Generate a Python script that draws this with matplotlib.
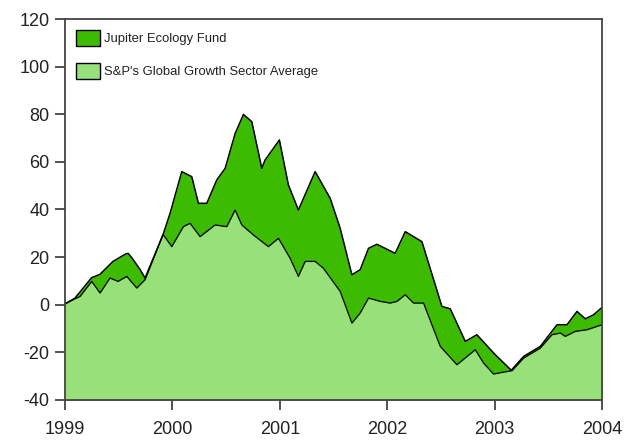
import numpy as np
import matplotlib.pyplot as plt
from matplotlib.patches import Patch

# Jupiter Ecology Fund (% growth)
jup_t = [1999.0, 1999.016, 1999.093, 1999.249, 1999.279, 1999.326, 1999.447, 1999.559,
         1999.587, 1999.621, 1999.699, 1999.745, 1999.913, 1999.978, 2000.087, 2000.180,
         2000.242, 2000.320, 2000.413, 2000.491, 2000.584, 2000.661, 2000.739, 2000.832,
         2000.863, 2000.996, 2001.080, 2001.173, 2001.329, 2001.469, 2001.562, 2001.671,
         2001.748, 2001.826, 2001.904, 2002.074, 2002.168, 2002.323, 2002.509, 2002.587,
         2002.727, 2002.835, 2003.006, 2003.155, 2003.270, 2003.425, 2003.581, 2003.674,
         2003.767, 2003.844, 2003.922, 2004.0]
jup_v = [0.5, 0.7, 2.8, 11.4, 11.9, 12.8, 18.2, 21.2,
         21.6, 19.8, 14.8, 11.2, 29.5, 38.4, 55.9, 53.8,
         42.6, 42.6, 52.4, 57.3, 71.9, 79.9, 76.9, 57.3,
         60.8, 69.2, 50.3, 39.8, 55.9, 44.7, 32.1, 12.6,
         14.7, 23.7, 25.4, 21.6, 30.7, 26.5, -0.7, -1.7,
         -15.4, -12.6, -21.0, -27.5, -21.7, -17.5, -8.4, -8.4,
         -2.8, -5.9, -4.2, -1.1]

# S&P's Global Growth Sector Average
sp_t = [1999.0, 1999.140, 1999.249, 1999.326, 1999.419, 1999.494, 1999.575, 1999.668,
        1999.745, 1999.913, 1999.994, 2000.102, 2000.164, 2000.258, 2000.397, 2000.506,
        2000.584, 2000.646, 2000.754, 2000.894, 2000.987, 2001.096, 2001.173, 2001.236,
        2001.329, 2001.406, 2001.562, 2001.671, 2001.748, 2001.826, 2001.935, 2002.028,
        2002.090, 2002.168, 2002.245, 2002.338, 2002.494, 2002.649, 2002.820, 2002.897,
        2002.990, 2003.083, 2003.162, 2003.270, 2003.425, 2003.534, 2003.612, 2003.658,
        2003.751, 2003.860, 2004.0]
sp_v = [0.5, 3.5, 9.8, 4.9, 11.2, 9.8, 11.9, 7.0,
        10.5, 29.5, 24.4, 32.8, 34.2, 28.6, 33.5, 32.8,
        39.8, 33.5, 29.3, 24.4, 27.9, 19.5, 11.9, 18.2,
        18.2, 15.3, 5.6, -7.7, -3.5, 2.8, 1.4, 0.7,
        1.4, 4.2, 0.7, 0.7, -17.5, -25.2, -18.9, -24.5,
        -29.1, -28.3, -27.7, -22.4, -18.2, -12.6, -11.9, -13.3,
        -11.2, -10.5, -8.4]

years = [1999, 2000, 2001, 2002, 2003, 2004]
yticks = [-40, -20, 0, 20, 40, 60, 80, 100, 120]

dark = '#3dbb00'
light = '#97e07a'

plt.rcParams['font.family'] = ['Liberation Sans', 'DejaVu Sans']
plt.rcParams['axes.unicode_minus'] = False

fig = plt.figure(figsize=(6.3, 4.43), dpi=100)
ax = fig.add_axes([0.1032, 0.0971, 0.8524, 0.86])

ax.fill_between(jup_t, -40, jup_v, color=dark, lw=0)
ax.plot(jup_t, jup_v, color='black', lw=1.1)
ax.fill_between(sp_t, -40, sp_v, color=light, lw=0)
ax.plot(sp_t, sp_v, color='black', lw=0.9)

ax.set_xlim(1999, 2004)
ax.set_ylim(-40, 120)
ax.set_xticks(years)
ax.set_xticklabels([str(y) for y in years])
ax.set_yticks(yticks)
ax.tick_params(axis='both', direction='out', length=7, width=1.3, color='#444444',
               labelsize=13, labelcolor='#222222', pad=4)
ax.tick_params(axis='x', pad=8)
for s in ax.spines.values():
    s.set_color('#444444')
    s.set_linewidth(1.3)

handles = [Patch(facecolor=dark, edgecolor='black', label='Jupiter Ecology Fund'),
           Patch(facecolor=light, edgecolor='black', label="S&P's Global Growth Sector Average")]
ax.legend(handles=handles, loc='upper left', frameon=False, fontsize=9.4,
          handlelength=1.8, handleheight=1.45, handletextpad=0.3, labelspacing=1.35,
          borderaxespad=0.45, bbox_to_anchor=(0.0, 1.0), labelcolor='#222222')

fig.savefig('out.png', dpi=100)
